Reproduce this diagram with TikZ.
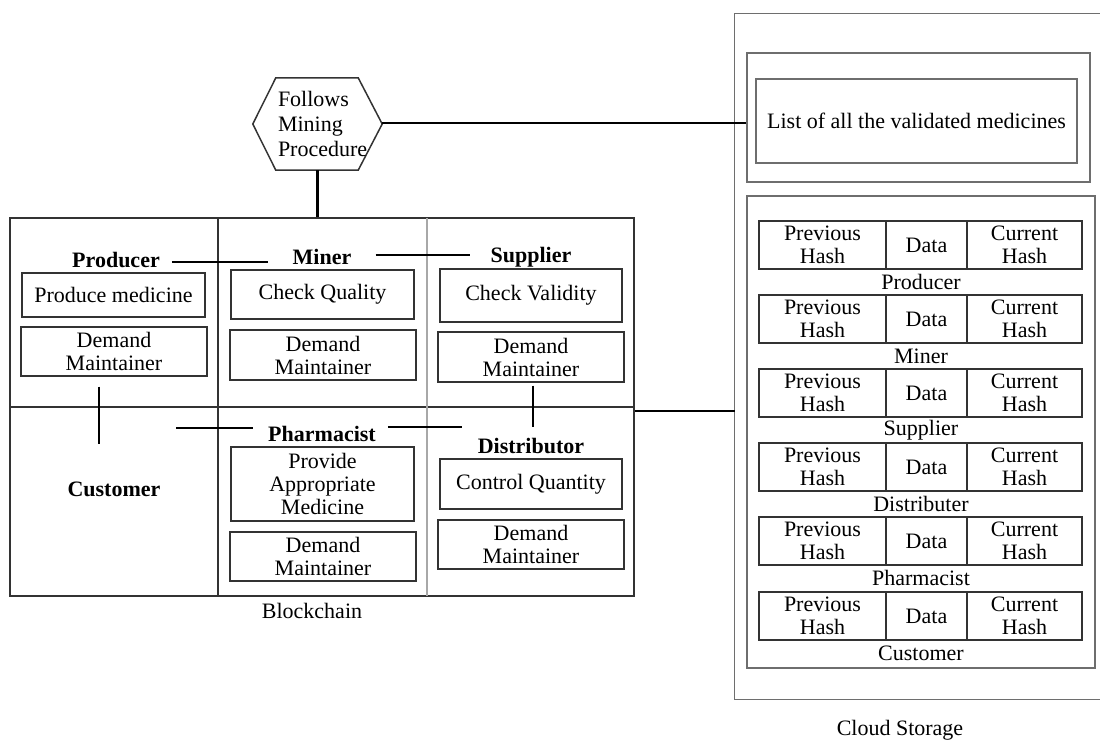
\documentclass[tikz,border=0pt]{standalone}
\usepackage{fontspec}
\setmainfont{Liberation Serif}
\definecolor{boxgray}{HTML}{333333}
\definecolor{framegray}{HTML}{6E6E6E}
\definecolor{lightline}{HTML}{A8A8A8}
\begin{document}
\begin{tikzpicture}[x=1pt,y=-1pt,
  every node/.style={font=\fontsize{22}{23}\selectfont},
  box/.style={draw=boxgray, line width=1.2pt, inner sep=0pt, align=center},
  lbl/.style={inner sep=0pt, font=\fontsize{22}{23}\selectfont\bfseries, text height=15pt, text depth=4pt},
  plain/.style={inner sep=0pt},
  conn/.style={line width=2.6pt, black},
  frame/.style={draw=framegray, line width=1.2pt}]
\useasboundingbox (0,0) rectangle (1100,742);

% ---------- Hexagon ----------
\node[minimum width=129pt, minimum height=92pt, inner sep=0pt] (hex) at (317.5,124) {};
\draw[boxgray, line width=1.5pt] (hex.west) -- ([xshift=23pt]hex.north west) -- ([xshift=-24pt]hex.north east)
  -- (hex.east) -- ([xshift=-24pt]hex.south east) -- ([xshift=23pt]hex.south west) -- cycle;
\node[plain, anchor=west, align=left, font=\fontsize{22}{25}\selectfont] (hext) at ([xshift=25pt]hex.west) {Follows\\Mining\\Procedure};

% ---------- Blockchain grid ----------
\node[draw=boxgray, line width=1.2pt, minimum width=624pt, minimum height=378pt, inner sep=0pt] (grid) at (322,407) {};
\draw[boxgray, line width=1.2pt] (grid.west) -- (grid.east);
\draw[boxgray, line width=1.2pt] (218,218) -- (218,596);
\draw[lightline, line width=1.2pt] (427,218) -- (427,596);
\node[plain] (bc) at (312,611) {Blockchain};

% labels
\node[lbl] (prodL) at (116,262) {Producer};
\node[lbl] (minerL) at (322,259) {Miner};
\node[lbl] (supL) at (531,257) {Supplier};
\node[lbl] (pharmL) at (322,436) {Pharmacist};
\node[lbl] (distL) at (531,448) {Distributor};
\node[lbl] (custL) at (114,491) {Customer};

% boxes
\node[box, minimum width=183pt, minimum height=44pt] (prodBox) at (113.5,295) {Produce medicine};
\node[box, minimum width=186pt, minimum height=49pt] (prodDM) at (114,351.5) {Demand\\Maintainer};
\node[box, minimum width=183pt, minimum height=49pt] (minerBox) at (322.5,294.5) {Check Quality};
\node[box, minimum width=186pt, minimum height=50pt] (minerDM) at (323,355) {Demand\\Maintainer};
\node[box, minimum width=182pt, minimum height=53pt] (supBox) at (531,295.5) {Check Validity};
\node[box, minimum width=186pt, minimum height=50pt] (supDM) at (531,357) {Demand\\Maintainer};
\node[box, minimum width=183pt, minimum height=74pt] (pharmBox) at (322.5,484) {Provide\\Appropriate\\Medicine};
\node[box, minimum width=186pt, minimum height=49pt] (pharmDM) at (323,556.5) {Demand\\Maintainer};
\node[box, minimum width=182pt, minimum height=50pt] (distBox) at (531,484) {Control Quantity};
\node[box, minimum width=186pt, minimum height=49pt] (distDM) at (531,544.5) {Demand\\Maintainer};

% ---------- Cloud storage ----------
\node[minimum width=365pt, minimum height=685pt, inner sep=0pt] (cloud) at (917.5,356.5) {};
\draw[frame] (cloud.north east) -- (cloud.north west) -- (cloud.south west) -- (cloud.south east);
\node[plain] (cs) at (900,730) {Cloud Storage};

\node[draw=framegray, line width=1.2pt, minimum width=343pt, minimum height=129pt, inner sep=0pt] (listOuter) at (918.5,117.5) {};
\node[box, draw=framegray, minimum width=321pt, minimum height=84pt] (listBox) at (916.5,121) {List of all the validated medicines};

\node[draw=framegray, line width=1.2pt, minimum width=348pt, minimum height=472pt, inner sep=0pt] (chainOuter) at (921,432) {};

\foreach \t/\n/\l in {221/a/Producer,295/b/Miner,369/c/Supplier,443/d/Distributer,517/e/Pharmacist,592/f/Customer}{
  \node[box, minimum width=127pt, minimum height=48pt] (prev\n) at (822.5,\t+24) {Previous\\Hash};
  \node[box, minimum width=81pt, minimum height=48pt] (data\n) at (926.5,\t+24) {Data};
  \node[box, minimum width=115pt, minimum height=48pt] (cur\n) at (1024.5,\t+24) {Current\\Hash};
  \node[plain] (lab\n) at (921,\t+61) {\l};
}

% ---------- Connectors ----------
\draw[conn] (hex.south) -- (hex.south |- grid.north);
\draw[conn] ([yshift=1pt]hex.east) -- ([yshift=1pt]hex.east -| listOuter.west);
\draw[conn] ([yshift=-4pt]grid.east) -- ([yshift=-4pt]grid.east -| cloud.west);
\draw[conn] ([xshift=12pt]prodL.east) -- ([xshift=-24pt]prodL.east -| minerL.west);
\draw[conn] ([xshift=24pt,yshift=4pt]minerL.east) -- ([xshift=-20pt,yshift=4pt]minerL.east -| supL.west);
\draw[conn] ([xshift=-15pt,yshift=-10pt]prodDM.south) -- ([xshift=-15pt,yshift=37.5pt]custL.north);
\draw[conn] ([xshift=2pt,yshift=-3pt]supDM.south) -- ([xshift=2pt,yshift=11.5pt]distL.north);
\draw[conn] ([xshift=15.5pt,yshift=8pt]pharmL.west -| custL.east) -- ([xshift=-15pt,yshift=8pt]pharmL.west);
\draw[conn] ([xshift=12pt,yshift=9pt]pharmL.east) -- ([xshift=-16pt,yshift=9pt]pharmL.east -| distL.west);
\end{tikzpicture}
\end{document}
